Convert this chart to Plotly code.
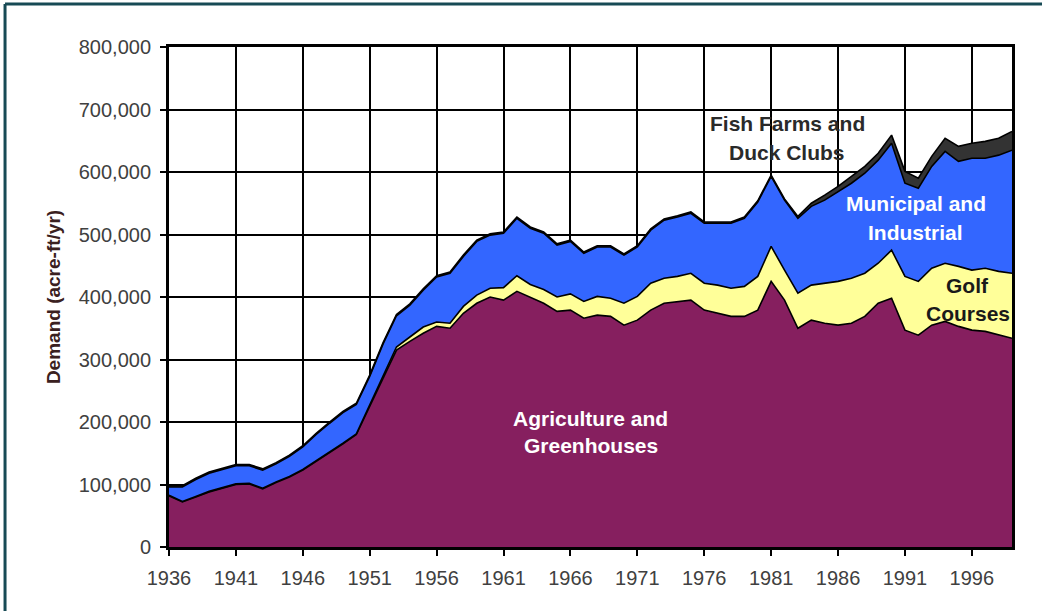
import plotly.graph_objects as go

years = list(range(1936, 2000))

# Demand in thousands of acre-ft/yr (stacked layers)
agriculture = [82, 72, 80, 88, 94, 100, 101, 93, 103, 112, 123, 137, 150, 165, 180, 225,
               270, 315, 329, 342, 353, 350, 374, 390, 400, 395, 409, 400, 390, 377, 379,
               366, 371, 369, 355, 363, 379, 390, 393, 395, 379, 374, 369, 369, 379, 425,
               395, 350, 363, 358, 355, 358, 369, 390, 398, 347, 339, 355, 361, 353, 347,
               345, 339, 334]
golf = [1] * 15 + [2, 3, 5, 7, 10, 7, 8, 11, 13, 14, 20, 25, 20, 22, 23, 26,
                   27, 30, 29, 35, 38, 43, 40, 40, 43, 43, 45, 45, 48, 54, 56,
                   48, 56, 56, 64, 70, 72, 69, 64, 77, 86, 86, 91, 93, 96, 96,
                   101, 102, 104]
municipal = [13, 23, 27, 29, 29, 29, 28, 29, 29, 32, 36, 42, 47, 49, 47, 46,
             52, 50, 51, 59, 72, 80, 80, 86, 85, 87, 92, 90, 90, 83, 84,
             77, 79, 82, 77, 79, 85, 93, 95, 96, 96, 99, 104, 109, 119, 112,
             112, 120, 126, 133, 144, 152, 160, 165, 171, 149, 149, 163, 179, 168, 179,
             176, 186, 197]
fish = [2] * 47 + [3, 5, 8, 8, 11, 11, 11, 13, 19, 16, 16, 21, 24, 24, 27, 27, 30]

series_names = ["Agriculture and Greenhouses", "Golf Courses",
                "Municipal and Industrial", "Fish Farms and Duck Clubs"]
series_values = [agriculture, golf, municipal, fish]
series_colors = ["#861f5f", "#ffff99", "#3366ff", "#333333"]

x_ticks = list(range(1936, 1997, 5))
y_ticks = list(range(0, 800001, 100000))

fig = go.Figure()
for name, vals, col in zip(series_names, series_values, series_colors):
    fig.add_trace(go.Scatter(
        x=years, y=[v * 1000 for v in vals], name=name,
        mode="lines", stackgroup="one",
        line=dict(color="black", width=1.6), fillcolor=col,
        hoverinfo="x+y+name",
    ))

tick_font = dict(family="Liberation Sans, Arial, sans-serif", size=20, color="#404040")

fig.update_layout(
    width=1042, height=611,
    margin=dict(l=169, r=30, t=47, b=64),
    paper_bgcolor="white", plot_bgcolor="white",
    showlegend=False,
    xaxis=dict(
        range=[1936, 1999], tickvals=x_ticks, ticktext=[str(t) for t in x_ticks],
        showgrid=True, gridcolor="black", gridwidth=1.6,
        showline=True, linecolor="black", linewidth=3, mirror=True,
        ticks="outside", ticklen=6, tickcolor="black", tickwidth=1.5,
        tickfont=tick_font, zeroline=False, ticklabelstandoff=5,
    ),
    yaxis=dict(
        range=[0, 800000], tickvals=y_ticks,
        ticktext=[f"{t:,}" for t in y_ticks],
        showgrid=True, gridcolor="black", gridwidth=1.6,
        showline=True, linecolor="black", linewidth=3, mirror=True,
        ticks="outside", ticklen=6, tickcolor="black", tickwidth=1.5,
        tickfont=tick_font, zeroline=False, ticklabelstandoff=5,
        title=dict(text="<b>Demand (acre-ft/yr)</b>",
                   font=dict(family="Liberation Sans, Arial, sans-serif", size=19, color="#3a2020"),
                   standoff=14),
    ),
)

# Labels on the areas (one annotation per line)
lab_font = "Liberation Sans, Arial, sans-serif"
labels = [
    (1982.2, 678000, "Fish Farms and", "#2a2a2a"),
    (1982.2, 632000, "Duck Clubs", "#2a2a2a"),
    (1991.8, 549000, "Municipal and", "white"),
    (1991.8, 504000, "Industrial", "white"),
    (1995.7, 419000, "Golf", "#1a1a1a"),
    (1995.7, 374000, "Courses", "#1a1a1a"),
    (1967.5, 206000, "Agriculture and", "white"),
    (1967.5, 163000, "Greenhouses", "white"),
]
for x, y, t, c in labels:
    fig.add_annotation(x=x, y=y, text=f"<b>{t}</b>", showarrow=False,
                       font=dict(family=lab_font, size=21, color=c))

# Outer frame (top and left edges) like the reference
frame = "#174a55"
fig.add_shape(type="line", xref="paper", yref="paper", x0=-0.1945, x1=1.1, y0=1.086, y1=1.086,
              line=dict(color=frame, width=3))
fig.add_shape(type="line", xref="paper", yref="paper", x0=-0.1945, x1=-0.1945, y0=-0.2, y1=1.086,
              line=dict(color=frame, width=3))

fig.write_html("out.html", config={"displayModeBar": False},
               post_script="document.body.style.margin='0px';")
